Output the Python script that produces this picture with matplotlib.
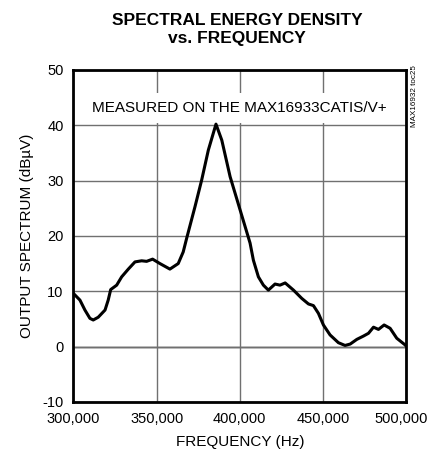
import numpy as np
import matplotlib.pyplot as plt
import matplotlib.transforms as mtransforms

# =====================================================
# DATA
# =====================================================

freq_hz = [
    300000, 303900, 306900, 309900, 311900, 314900, 319000, 320900,
    322400, 326000, 329000, 333000, 337000, 341000, 344000, 347600,
    352000, 358000, 363000, 366000, 368100, 373100, 377100, 381100,
    385700, 389200, 394200, 400200, 406200, 408200, 411200, 414200,
    417200, 421200, 424200, 427300, 432300, 437300, 441300, 444300,
    447300, 450300, 454300, 459300, 463300, 466400, 470400, 474400,
    477400, 480400, 483400, 486800, 490400, 494400, 499400, 500000,
]

spectrum_dbuv = [
    9.6, 8.4, 6.6, 5.1, 4.8, 5.3, 6.6, 8.4,
    10.3, 11.1, 12.6, 14.0, 15.3, 15.5, 15.4, 15.8,
    15.0, 14.0, 15.0, 17.1, 19.6, 25.3, 30.1, 35.5,
    40.2, 37.3, 30.7, 24.7, 18.7, 15.6, 12.6, 11.1,
    10.2, 11.3, 11.1, 11.5, 10.2, 8.7, 7.7, 7.4,
    6.0, 3.9, 2.1, 0.7, 0.2, 0.45, 1.3, 1.9,
    2.4, 3.5, 3.1, 3.9, 3.3, 1.5, 0.3, 0.1,
]

x_ticks = [300000, 350000, 400000, 450000, 500000]
y_ticks = [-10, 0, 10, 20, 30, 40, 50]

# =====================================================
# FIGURE
# =====================================================

plt.rcParams["font.family"] = ["Liberation Sans", "DejaVu Sans"]
plt.rcParams["axes.unicode_minus"] = False

fig = plt.figure(figsize=(4.32, 4.63), dpi=100)
ax = fig.add_axes([0.170, 0.132, 0.770, 0.717])

ax.set_xlim(300000, 500000)
ax.set_ylim(-10, 50)

ax.set_xticks(x_ticks)
ax.set_xticklabels([f"{t:,}" for t in x_ticks])
ax.set_yticks(y_ticks)

ax.grid(True, color="#707070", linewidth=1.0)
ax.axhline(0, color="black", linewidth=1.0, zorder=1.5)

ax.plot(
    freq_hz,
    spectrum_dbuv,
    color="black",
    linewidth=2.2,
    solid_joinstyle="round",
    solid_capstyle="round",
    zorder=3
)

ax.tick_params(length=0, labelsize=10.5, pad=7)
for spine in ax.spines.values():
    spine.set_linewidth(2.0)
    spine.set_zorder(4)

# last tick label sits a little left, as in the original
last = ax.get_xticklabels()[-1]
last.set_transform(
    last.get_transform()
    + mtransforms.ScaledTranslation(-5 / 100, 0, fig.dpi_scale_trans)
)

ax.text(
    0.5, 0.885,
    "MEASURED ON THE MAX16933CATIS/V+",
    transform=ax.transAxes,
    ha="center", va="center",
    fontsize=11,
    bbox=dict(facecolor="white", edgecolor="none", pad=6),
    zorder=2.5
)

ax.set_xlabel("FREQUENCY (Hz)", fontsize=11, labelpad=7)
ax.set_ylabel("OUTPUT SPECTRUM (dBµV)", fontsize=11, labelpad=6)

fig.text(
    0.5486, 0.972,
    "SPECTRAL ENERGY DENSITY\nvs. FREQUENCY",
    ha="center", va="top",
    fontsize=12.5, fontweight="bold",
    linespacing=1.25
)

fig.text(
    0.9595, 0.792,
    "MAX16932 toc25",
    rotation=90,
    ha="center", va="center",
    fontsize=5.8
)

plt.savefig("out.png", dpi=100)
plt.close()
